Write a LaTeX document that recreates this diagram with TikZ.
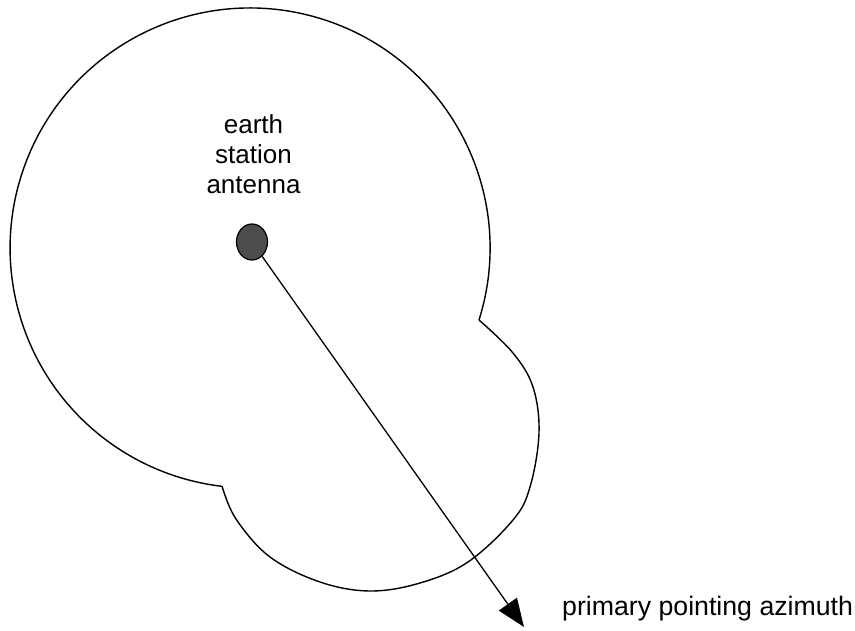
\documentclass[tikz,border=0pt]{standalone}
\usepackage{fontspec}
\setmainfont{Liberation Sans}
\usetikzlibrary{arrows.meta,shapes.geometric}
\begin{document}
\begin{tikzpicture}[x=1pt,y=1pt,
  outline/.style={line width=1.4pt, line join=round},
  lbl/.style={font=\fontsize{26}{30}\selectfont, inner sep=0pt},
  antdot/.style={ellipse, draw=black, fill=black!70, line width=1.2pt, minimum width=31pt, minimum height=36pt, inner sep=0pt},
  pointer/.style={line width=1.3pt, -{Triangle[length=28pt,width=22pt]}}]
\useasboundingbox (0,0) rectangle (855,630);
% main (back) lobe: circle around the antenna
\coordinate (nR) at (479,310);
\draw[outline] (nR) arc[start angle=-17.46, end angle=263.3, radius=240] coordinate (nL);
% forward lobe
\draw[outline] plot[smooth, tension=0.6] coordinates {(nL) (236,111) (270,73) (320,48) (370,39) (420,47) (468,68) (513,110) (530,143) (539,197) (533,243) (513,277) (nR)};
% antenna
\node[antdot] (ant) at (252,388) {};
\node[lbl, align=center, anchor=north] (es) at (253.5,516) {earth\\station\\antenna};
\coordinate (tip) at (524,3);
\draw[pointer] (ant) -- (tip);
\node[lbl, font=\fontsize{26.7}{30}\selectfont, anchor=base west] (az) at (562,15) {primary pointing azimuth};
\end{tikzpicture}
\end{document}
